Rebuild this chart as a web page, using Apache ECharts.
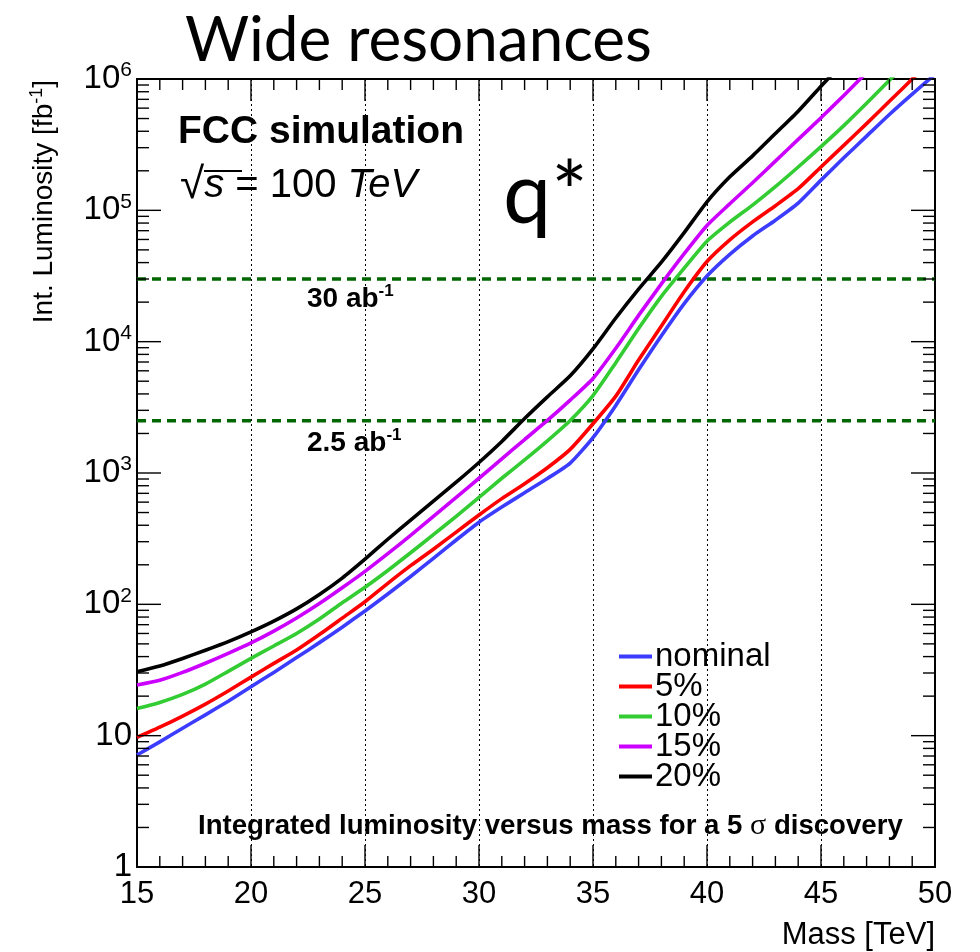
<!DOCTYPE html>
<html>
<head>
<meta charset="utf-8">
<script src="https://cdn.jsdelivr.net/npm/echarts@6/dist/echarts.min.js"></script>
<style>
  html, body { margin: 0; padding: 0; background: #ffffff; }
  #main { width: 980px; height: 952px; }
</style>
</head>
<body>
<div id="main"></div>
<script>
// Resonance mass points [TeV]
const mass = [15, 16, 17, 18, 19, 20, 21, 22, 23, 24, 25, 26, 27, 28, 29, 30, 31, 32,
              33, 34, 35, 36, 37, 38, 39, 40, 41, 42, 43, 44, 45, 46, 47, 48, 49, 50];

// Integrated luminosity [fb^-1] needed for a 5 sigma discovery, per systematic uncertainty
const lumiNominal = [7.13, 8.97, 11.4, 14.4, 18.3, 23.6, 30.3, 39.3, 51.1, 67.0, 89.1, 120, 163, 224,
                     309, 422, 550, 708, 908, 1190, 1860, 3270, 6100, 11100, 19500, 31620, 46200,
                     63800, 84100, 113500, 169800, 251200, 367300, 537000, 767300, 1084000];
const lumi5 = [9.70, 11.6, 14.1, 17.4, 21.9, 27.9, 35.5, 44.9, 58.9, 78.5, 104.7, 144.5, 197, 263,
               355, 479, 638, 828, 1096, 1514, 2371, 3846, 7244, 13180, 23990, 40740, 59570,
               81660, 108400, 146200, 213800, 312600, 457100, 676100, 1000000, 1479000];
const lumi10 = [16.1, 17.9, 20.6, 24.7, 30.9, 38.8, 48.2, 60.0, 77.3, 102.8, 134.9, 181, 247, 339,
                468, 653, 912, 1259, 1758, 2512, 3890, 6918, 12590, 22130, 36310, 58200, 81280,
                109650, 151400, 213800, 305500, 441600, 653100, 977200, 1479000, null];
const lumi15 = [24.3, 26.4, 30.3, 35.6, 42.3, 50.8, 62.5, 78.7, 101.4, 133.7, 178.2, 243, 335, 468,
                653, 912, 1282, 1799, 2512, 3589, 5248, 8913, 15850, 27540, 46770, 76740, 112200,
                162200, 237100, 346700, 507000, 749900, 1122000, null, null, null];
const lumi20 = [30.7, 33.9, 38.7, 44.7, 52.0, 61.7, 74.5, 92.3, 118.9, 158.5, 221, 313, 437, 610,
                851, 1202, 1738, 2600, 3802, 5495, 8810, 15140, 25120, 40270, 67610, 116100,
                179900, 260000, 384600, 568900, 881000, 1349000, null, null, null, null];

// Reference integrated luminosities [fb^-1]: 30 ab^-1 and 2.5 ab^-1
const refLumi = [30000, 2500];

// Axis ticks
const massTicks = [15, 20, 25, 30, 35, 40, 45, 50];
const lumiDecades = [1, 10, 100, 1000, 10000, 100000, 1000000];

const seriesDefs = [
  { name: 'nominal', values: lumiNominal, color: '#3c3cff' },
  { name: '5%',      values: lumi5,       color: '#ff0000' },
  { name: '10%',     values: lumi10,      color: '#33cc33' },
  { name: '15%',     values: lumi15,      color: '#cc00ff' },
  { name: '20%',     values: lumi20,      color: '#000000' }
];

const FONT = '"Liberation Sans", Arial, Helvetica, sans-serif';
const chart = echarts.init(document.getElementById('main'), null, { renderer: 'canvas' });

// Inner tick marks on all four frame sides (major + minor), placed through the axis scales
const tickItems = [];
for (let m = mass[0]; m <= mass[mass.length - 1]; m++) {
  tickItems.push([m, 1, 0, massTicks.indexOf(m) >= 0 ? 1 : 0]);
}
lumiDecades.forEach(function (dec) {
  for (let d = 1; d <= 9; d++) {
    const v = d * dec;
    if (v > lumiDecades[lumiDecades.length - 1]) break;
    tickItems.push([15, v, 1, d === 1 ? 1 : 0]);
  }
});

function renderTick(params, api) {
  const cs = params.coordSys;
  const kind = api.value(2);
  const major = api.value(3) === 1;
  const p = api.coord([api.value(0), api.value(1)]);
  const st = { stroke: '#000', lineWidth: 1.4 };
  if (kind === 0) {
    const L = major ? 22 : 11;
    const yb = cs.y + cs.height, yt = cs.y;
    return { type: 'group', children: [
      { type: 'line', shape: { x1: p[0], y1: yb, x2: p[0], y2: yb - L }, style: st },
      { type: 'line', shape: { x1: p[0], y1: yt, x2: p[0], y2: yt + L }, style: st }
    ]};
  }
  const L = major ? 24 : 12;
  const xl = cs.x, xr = cs.x + cs.width;
  return { type: 'group', children: [
    { type: 'line', shape: { x1: xl, y1: p[1], x2: xl + L, y2: p[1] }, style: st },
    { type: 'line', shape: { x1: xr, y1: p[1], x2: xr - L, y2: p[1] }, style: st }
  ]};
}

const series = [];
// Dashed reference levels
refLumi.forEach(function (v, i) {
  series.push({
    name: 'ref' + i,
    type: 'line',
    data: [[mass[0], v], [mass[mass.length - 1], v]],
    symbol: 'none',
    silent: true,
    z: 1,
    lineStyle: { color: '#006600', width: 3.4, type: [9, 6] }
  });
});
seriesDefs.forEach(function (s, si) {
  const pts = [];
  s.values.forEach(function (v, i) { if (v != null) pts.push([mass[i], v]); });
  series.push({
    name: s.name,
    type: 'line',
    data: pts,
    symbol: 'none',
    smooth: 0.2,
    clip: true,
    z: 3 + si,
    color: s.color,
    lineStyle: { color: s.color, width: 3.6, join: 'round' }
  });
});
series.push({
  type: 'custom',
  renderItem: renderTick,
  data: tickItems,
  encode: { x: 0, y: 1 },
  clip: false,
  silent: true,
  z: 10
});

const option = {
  animation: false,
  backgroundColor: '#ffffff',
  grid: {
    left: 137, top: 79, width: 798, height: 788,
    show: true, borderColor: '#000', borderWidth: 2, backgroundColor: 'transparent'
  },
  legend: {
    data: seriesDefs.map(function (s) { return s.name; }),
    orient: 'vertical',
    left: 614, top: 635,
    itemWidth: 33, itemHeight: 4, itemGap: -3,
    icon: 'rect',
    textStyle: { fontFamily: FONT, fontSize: 33, color: '#000', lineHeight: 30, padding: [0, 0, 0, -2] }
  },
  xAxis: {
    type: 'value', min: 15, max: 50, interval: 5,
    axisLine: { show: false },
    axisTick: { show: false },
    axisLabel: { fontFamily: FONT, fontSize: 31, color: '#000', margin: 12 },
    splitLine: { show: true, lineStyle: { color: '#000', width: 1, type: [2, 3] } }
  },
  yAxis: {
    type: 'log', logBase: 10, min: 1, max: 1000000, splitNumber: 6,
    axisLine: { show: false },
    axisTick: { show: false },
    splitLine: { show: false },
    axisLabel: {
      margin: 5,
      color: '#000',
      formatter: function (v) {
        const k = Math.round(Math.log10(v));
        if (k === 0) return '{b|1}';
        if (k === 1) return '{b|10}';
        return '{b|10}{s|' + k + '}';
      },
      rich: {
        b: { fontFamily: FONT, fontSize: 33, lineHeight: 38, color: '#000' },
        s: { fontFamily: FONT, fontSize: 21, lineHeight: 16, verticalAlign: 'top', color: '#000' }
      }
    }
  },
  series: series,
  graphic: [
    { type: 'text', left: 185, top: 10,
      style: { text: 'Wide resonances', font: '400 62px Lato, "Open Sans", sans-serif', fill: '#000' } },
    { type: 'text', left: 503, top: 152,
      style: { text: 'q*', font: '400 86px Lato, "Open Sans", sans-serif', fill: '#000' } },
    { type: 'text', left: 178, top: 113,
      style: { text: 'FCC simulation', font: 'bold 39px ' + FONT, fill: '#000' } },
    { type: 'text', left: 180, top: 164,
      style: {
        text: '{r|√}{i|s}{n| = 100 }{i|TeV}',
        rich: {
          r: { font: '44px ' + FONT, fill: '#000' },
          i: { font: 'italic 40px ' + FONT, fill: '#000' },
          n: { font: '40px ' + FONT, fill: '#000' }
        }
      } },
    { type: 'line', shape: { x1: 204, y1: 171, x2: 242, y2: 171 },
      style: { stroke: '#000', lineWidth: 2 } },
    { type: 'text', left: 307, top: 283,
      style: {
        text: '{b|30 ab}{s|-1}',
        rich: {
          b: { font: 'bold 28px ' + FONT, fill: '#000', lineHeight: 32 },
          s: { font: 'bold 17px ' + FONT, fill: '#000', lineHeight: 14, verticalAlign: 'top' }
        }
      } },
    { type: 'text', left: 307, top: 427,
      style: {
        text: '{b|2.5 ab}{s|-1}',
        rich: {
          b: { font: 'bold 28px ' + FONT, fill: '#000', lineHeight: 32 },
          s: { font: 'bold 17px ' + FONT, fill: '#000', lineHeight: 14, verticalAlign: 'top' }
        }
      } },
    { type: 'text', left: 198, top: 811,
      style: {
        text: '{b|Integrated luminosity versus mass for a 5 }{g|σ}{b| discovery}',
        rich: {
          b: { font: 'bold 27.6px ' + FONT, fill: '#000' },
          g: { font: '30px "Liberation Serif", "DejaVu Serif", serif', fill: '#000' }
        }
      } },
    { type: 'text', right: 45, top: 920,
      style: { text: 'Mass [TeV]', font: '31px ' + FONT, fill: '#000' } },
    { type: 'text', left: 28, top: 80, rotation: Math.PI / 2,
      style: {
        text: '{b|Int. Luminosity [fb}{s|-1}{b|]}',
        rich: {
          b: { font: '28px ' + FONT, fill: '#000', lineHeight: 32 },
          s: { font: '18px ' + FONT, fill: '#000', lineHeight: 14, verticalAlign: 'top' }
        }
      } }
  ]
};
chart.setOption(option);
</script>
</body>
</html>
